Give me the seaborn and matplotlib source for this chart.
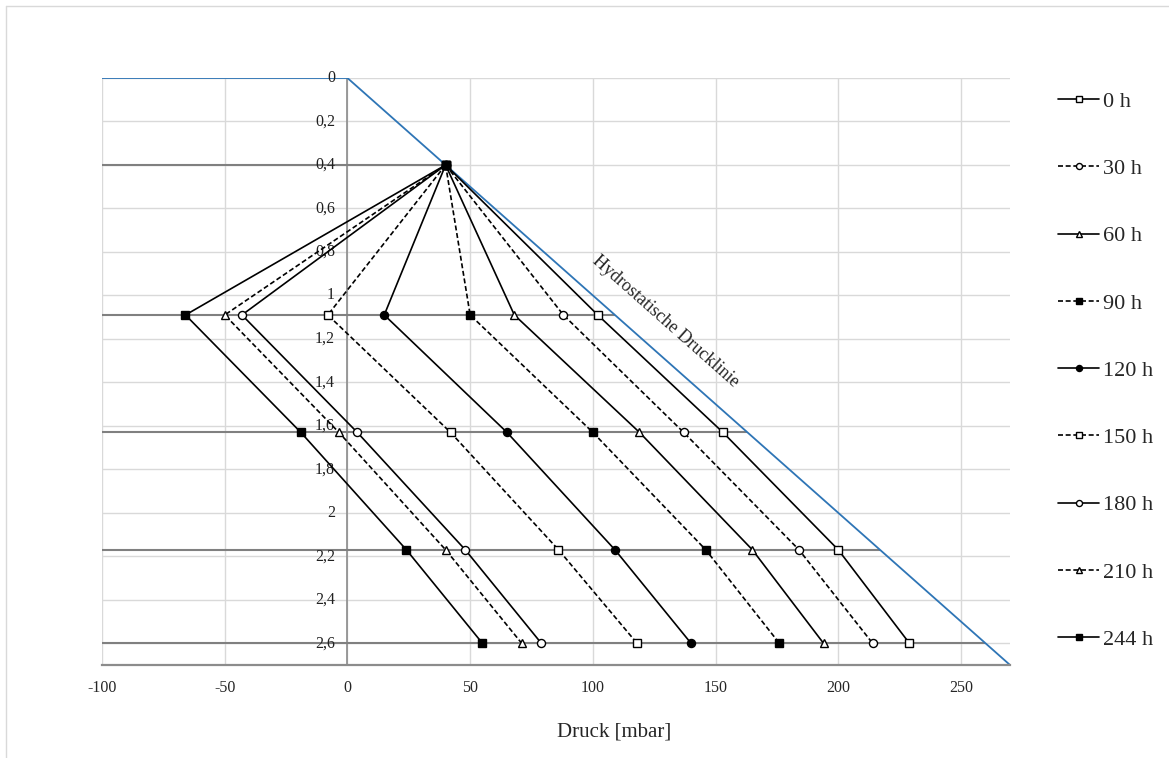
import numpy as np
import pandas as pd
import matplotlib.pyplot as plt
import seaborn as sns
from matplotlib.lines import Line2D

# Messtiefen [m] und Druck [mbar] je Zeitpunkt
depths = [0.4, 1.09, 1.63, 2.17, 2.6]
times = ['0 h', '30 h', '60 h', '90 h', '120 h', '150 h', '180 h', '210 h', '244 h']
p_0 = [40, 102, 153, 200, 229]
p_30 = [40, 88, 137, 184, 214]
p_60 = [40, 68, 119, 165, 194]
p_90 = [40, 50, 100, 146, 176]
p_120 = [40, 15, 65, 109, 140]
p_150 = [40, -8, 42, 86, 118]
p_180 = [40, -43, 4, 48, 79]
p_210 = [40, -50, -3.5, 40, 71]
p_244 = [40, -66, -19, 24, 55]
pressures = [p_0, p_30, p_60, p_90, p_120, p_150, p_180, p_210, p_244]

# hydrostatische Drucklinie
hydro_p = [-100, 0, 270]
hydro_h = [0, 0, 2.7]

# Stil je Reihe: (Linie, Marker, gefuellt)
styles = [('-', 's', False), ('--', 'o', False), ('-', '^', False),
          ('--', 's', True), ('-', 'o', True), ('--', 's', False),
          ('-', 'o', False), ('--', '^', False), ('-', 's', True)]

sns.set_theme(style='white')
plt.rcParams['font.family'] = ['Liberation Serif', 'DejaVu Serif']
plt.rcParams['axes.unicode_minus'] = False

fig = plt.figure(figsize=(11.69, 7.58), dpi=100)
ax = fig.add_axes([0.0873, 0.1227, 0.7767, 0.7744])

ax.set_xlim(-100, 270)
ax.set_ylim(2.7, 0)
ax.set_xticks(np.arange(-100, 251, 50))
ax.set_yticks(np.arange(0, 2.61, 0.2))
ax.grid(True, color='#d9d9d9', lw=1)
ax.set_axisbelow(True)
for s in ['top', 'right', 'left']:
    ax.spines[s].set_visible(False)
ax.spines['bottom'].set_color('#8c8c8c')
ax.spines['bottom'].set_linewidth(1.6)
ax.tick_params(axis='x', length=0, pad=11, labelsize=11.5)
ax.tick_params(axis='y', length=0, labelleft=False)

# y-Achse bei x=0 mit Beschriftung
ax.axvline(0, color='#8c8c8c', lw=1.2, zorder=1)
for v in np.arange(0, 2.61, 0.2):
    lab = f'{v:.1f}'.rstrip('0').rstrip('.').replace('.', ',')
    ax.annotate(lab, xy=(0, v), xytext=(-9, 0), textcoords='offset points',
                ha='right', va='center', fontsize=11.5, color='#202020')

# Horizontale Linien der Messtiefen bis zur Drucklinie
ax.hlines(depths, -100, np.interp(depths, hydro_h[1:], hydro_p[1:]),
          color='#808080', lw=1.5, zorder=1.5)

sns.lineplot(x=hydro_p, y=hydro_h, ax=ax, color='#2e75b6', lw=1.3,
             sort=False, estimator=None, zorder=2)

for name, p, (ls, mk, filled) in zip(times, pressures, styles):
    sns.lineplot(x=p, y=depths, ax=ax, color='black', lw=1.2, linestyle=ls,
                 marker=mk, markersize=5.8, markeredgewidth=1,
                 markeredgecolor='black',
                 markerfacecolor='black' if filled else 'white',
                 sort=False, estimator=None, label=name, zorder=3)
    if ls == '--':
        ax.lines[-1].set_dashes((3, 1.6))

ax.get_legend().remove()

# Beschriftung der Drucklinie
p1 = ax.transData.transform((0, 0))
p2 = ax.transData.transform((270, 2.7))
ang = np.degrees(np.arctan2(p2[1] - p1[1], p2[0] - p1[0]))
ax.text(129.5, 1.12, 'Hydrostatische Drucklinie', rotation=ang,
        rotation_mode='anchor', ha='center', va='center', fontsize=13)

ax.set_xlabel('Druck [mbar]', fontsize=15)
ax.xaxis.set_label_coords(0.564, -0.098)
ax.set_ylabel('Höhe der Wassersäule [m]', fontsize=15)
ax.yaxis.set_label_coords(-0.024, 0.5)

handles, labels = ax.get_legend_handles_labels()
fig.legend(handles[-9:], labels[-9:], loc='center left',
           bbox_to_anchor=(0.905, 0.511), frameon=False, fontsize=16,
           labelspacing=2.1, handlelength=1.85, handletextpad=0.18,
           borderpad=0, borderaxespad=0, markerscale=0.75)

# Rahmen des Diagrammbereichs
fig.add_artist(Line2D([6 / 1169, 1], [1 - 6 / 758, 1 - 6 / 758], color='#d9d9d9', lw=1))
fig.add_artist(Line2D([6 / 1169, 6 / 1169], [0, 1 - 6 / 758], color='#d9d9d9', lw=1))

fig.savefig('out.png', dpi=100)
